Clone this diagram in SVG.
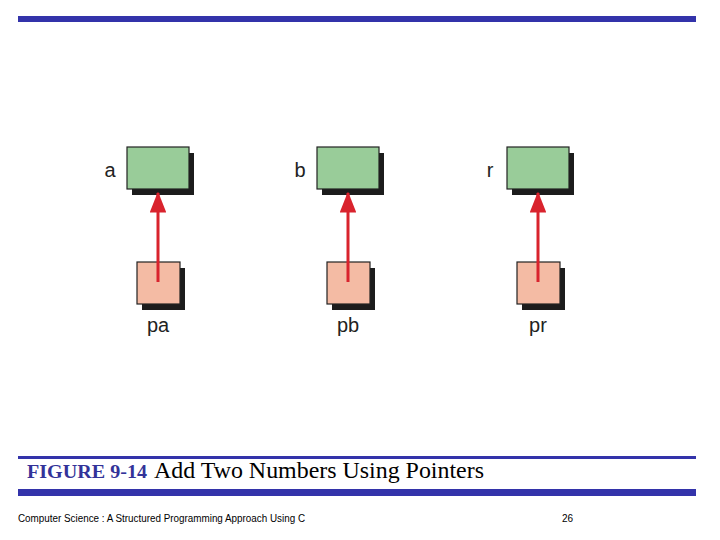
<svg xmlns="http://www.w3.org/2000/svg" width="720" height="540" viewBox="0 0 720 540">
<style>
.bar{fill:#3333aa}
.shadow{fill:#1c1c1c}
.var{fill:#99cc99;stroke:#222;stroke-width:1.2}
.ptr{fill:#f4bba4;stroke:#222;stroke-width:1.2}
.lbl{font-family:"Liberation Sans",Arial,sans-serif;font-size:20px;fill:#222}
.conn{stroke:#d9232d;stroke-width:3;fill:none}
</style>
<defs>
<marker id="ah" viewBox="0 0 14 11" refX="13" refY="5.5" markerWidth="7" markerHeight="5.5" orient="auto" markerUnits="strokeWidth">
<path d="M0,0 L14,5.5 L0,11 z" fill="#d9232d"/>
</marker>
</defs>
<rect width="720" height="540" fill="#fff"/>
<rect class="bar" x="18" y="16" width="678" height="6"/>

<g id="node-a">
<rect class="shadow" x="132" y="153" width="62" height="42"/>
<rect class="var" x="127" y="147" width="62" height="42"/>
<text class="lbl" x="110" y="177" text-anchor="middle">a</text>
</g>
<g id="node-b">
<rect class="shadow" x="322" y="153" width="62" height="42"/>
<rect class="var" x="317" y="147" width="62" height="42"/>
<text class="lbl" x="300" y="177" text-anchor="middle">b</text>
</g>
<g id="node-r">
<rect class="shadow" x="512" y="153" width="62" height="42"/>
<rect class="var" x="507" y="147" width="62" height="42"/>
<text class="lbl" x="490" y="177" text-anchor="middle">r</text>
</g>

<g id="node-pa">
<rect class="shadow" x="142" y="268" width="43" height="42"/>
<rect class="ptr" x="137" y="262" width="43" height="42"/>
<text class="lbl" x="158" y="332" text-anchor="middle">pa</text>
</g>
<g id="node-pb">
<rect class="shadow" x="332" y="268" width="43" height="42"/>
<rect class="ptr" x="327" y="262" width="43" height="42"/>
<text class="lbl" x="348" y="332" text-anchor="middle">pb</text>
</g>
<g id="node-pr">
<rect class="shadow" x="522" y="268" width="43" height="42"/>
<rect class="ptr" x="517" y="262" width="43" height="42"/>
<text class="lbl" x="538" y="332" text-anchor="middle">pr</text>
</g>

<g id="connectors">
<line class="conn" x1="158" y1="282" x2="158" y2="193" marker-end="url(#ah)"/>
<line class="conn" x1="348" y1="282" x2="348" y2="193" marker-end="url(#ah)"/>
<line class="conn" x1="538" y1="282" x2="538" y2="193" marker-end="url(#ah)"/>
</g>

<rect class="bar" x="18" y="456" width="678" height="3"/>
<text x="27" y="478" font-family="'Liberation Serif','Times New Roman',serif" font-size="19px" font-weight="bold" fill="#333399" textLength="120" lengthAdjust="spacingAndGlyphs">FIGURE 9-14</text>
<text x="154" y="478" font-family="'Liberation Serif','Times New Roman',serif" font-size="24px" fill="#000" textLength="330" lengthAdjust="spacingAndGlyphs">Add Two Numbers Using Pointers</text>
<rect class="bar" x="18" y="489" width="678" height="7"/>
<text x="18" y="522" font-family="'Liberation Sans',Arial,sans-serif" font-size="10px" fill="#000" textLength="287" lengthAdjust="spacingAndGlyphs">Computer Science : A Structured Programming Approach Using C</text>
<text x="562" y="522" font-family="'Liberation Sans',Arial,sans-serif" font-size="10px" fill="#000">26</text>
</svg>
